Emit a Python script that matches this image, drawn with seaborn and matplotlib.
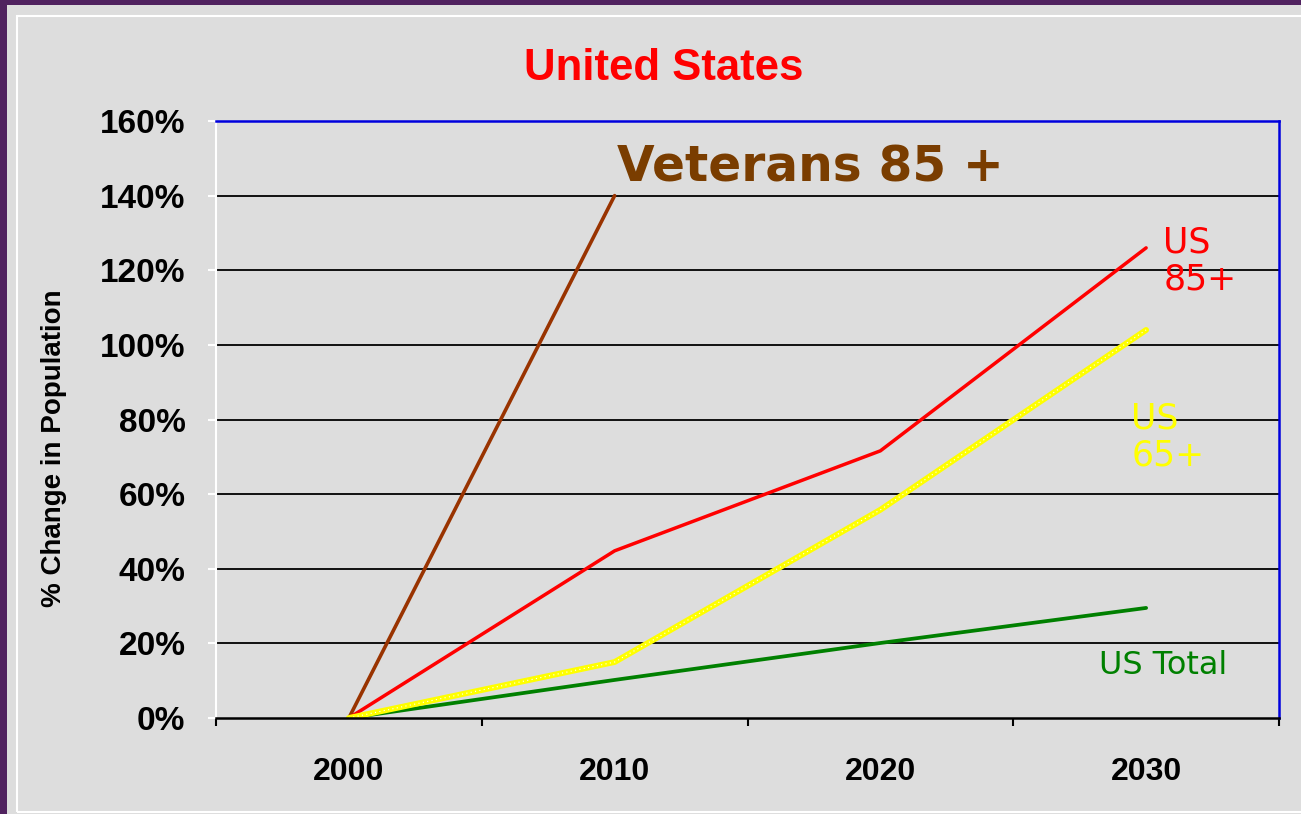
import matplotlib
matplotlib.use("Agg")
import matplotlib.pyplot as plt
from matplotlib.patches import Rectangle
from matplotlib.ticker import FixedLocator, FuncFormatter
import seaborn as sns
import pandas as pd

# data (percent change since 2000)
years = ["2000", "2010", "2020", "2030"]
veterans_85 = [0, 140]
us_85 = [0, 44.8, 71.6, 126]
us_65 = [0, 15, 55.8, 104]
us_total = [0, 10.2, 20.1, 29.5]

BG = "#dddddd"

sns.set_theme(style="white")
plt.rcParams["font.family"] = ["Liberation Sans", "DejaVu Sans"]

fig = plt.figure(figsize=(13.01, 8.14), dpi=100, facecolor=BG)
ax = fig.add_axes([216 / 1301, 96 / 814, 1063 / 1301, 597 / 814])
ax.set_facecolor(BG)

# slide frame: purple border and thin white rule
fig.patches.append(Rectangle((0, 0), 7 / 1301, 1, transform=fig.transFigure,
                             facecolor="#50225f", edgecolor="none", zorder=0))
fig.patches.append(Rectangle((0, 1 - 5 / 814), 1, 5 / 814, transform=fig.transFigure,
                             facecolor="#50225f", edgecolor="none", zorder=0))
fig.patches.append(Rectangle((16.5 / 1301, 2 / 814), 1.2, (814 - 17.5) / 814,
                             transform=fig.transFigure, facecolor="none",
                             edgecolor="white", lw=1.5, zorder=0))

df_vet = pd.DataFrame({"year": years[:len(veterans_85)], "pct": veterans_85})
df_85 = pd.DataFrame({"year": years, "pct": us_85})
df_65 = pd.DataFrame({"year": years, "pct": us_65})
df_tot = pd.DataFrame({"year": years, "pct": us_total})

sns.lineplot(data=df_vet, x="year", y="pct", ax=ax, color="#993300", lw=2.6, sort=False, zorder=5)
sns.lineplot(data=df_85, x="year", y="pct", ax=ax, color="#ff0000", lw=2.5, sort=False, zorder=5)
sns.lineplot(data=df_tot, x="year", y="pct", ax=ax, color="#008000", lw=2.7, sort=False, zorder=4)
sns.lineplot(data=df_65, x="year", y="pct", ax=ax, color="#ffff00", lw=4.2, sort=False, zorder=6)
sns.lineplot(data=df_65, x="year", y="pct", ax=ax, color="white", lw=0.8, sort=False, zorder=7,
             linestyle=(0, (1, 3)))

ax.set_xlim(-0.5, 3.5)
ax.set_ylim(0, 160)

# gridlines
for v in range(20, 160, 20):
    ax.axhline(v, color="black", lw=1.3, zorder=1)

ax.yaxis.set_major_locator(FixedLocator(range(0, 161, 20)))
ax.yaxis.set_major_formatter(FuncFormatter(lambda v, p: f"{int(v)}%"))
ax.tick_params(axis="y", which="major", left=True, length=6, width=1.5, color="white",
               pad=16, labelsize=24, labelcolor="black")
for t in ax.get_yticklabels():
    t.set_fontweight("bold")

ax.set_xticks(range(len(years)))
ax.set_xticklabels(years, fontsize=23, fontweight="bold")
ax.set_xticks([-0.5, 0.5, 1.5, 2.5, 3.5], minor=True)
ax.tick_params(axis="x", which="major", length=0, pad=28, labelcolor="black")
ax.tick_params(axis="x", which="minor", bottom=True, length=6, width=1.5, color="black")

ax.set_xlabel("")
ax.set_ylabel("% Change in Population", fontsize=20, fontweight="bold", color="black")
ax.yaxis.set_label_coords(-0.140, 0.452)

ax.spines["left"].set_color("white")
ax.spines["left"].set_linewidth(1.5)
ax.spines["bottom"].set_color("black")
ax.spines["bottom"].set_linewidth(1.8)
for s in ["top", "right"]:
    ax.spines[s].set_color("#0000dd")
    ax.spines[s].set_linewidth(1.8)
for s in ax.spines.values():
    s.set_zorder(8)

fig.text(664 / 1301, 1 - 69 / 814, "United States", color="#ff0000", fontsize=31.5,
         fontweight="bold", ha="center", va="center")

ax.text(1.01, 147.5, "Veterans 85 +", color="#7a3d00", fontsize=35, fontweight="bold",
        family="DejaVu Sans", ha="left", va="center")
ax.text(3.064, 122.5, "US\n85+", color="#ff0000", fontsize=25, family="DejaVu Sans",
        ha="left", va="center", linespacing=1.1)
ax.text(2.944, 75.3, "US\n65+", color="#ffff00", fontsize=25, family="DejaVu Sans",
        ha="left", va="center", linespacing=1.1)
ax.text(2.823, 14.2, "US Total", color="#008000", fontsize=23, family="DejaVu Sans",
        ha="left", va="center")

fig.savefig("out.png", dpi=100, facecolor=BG)
